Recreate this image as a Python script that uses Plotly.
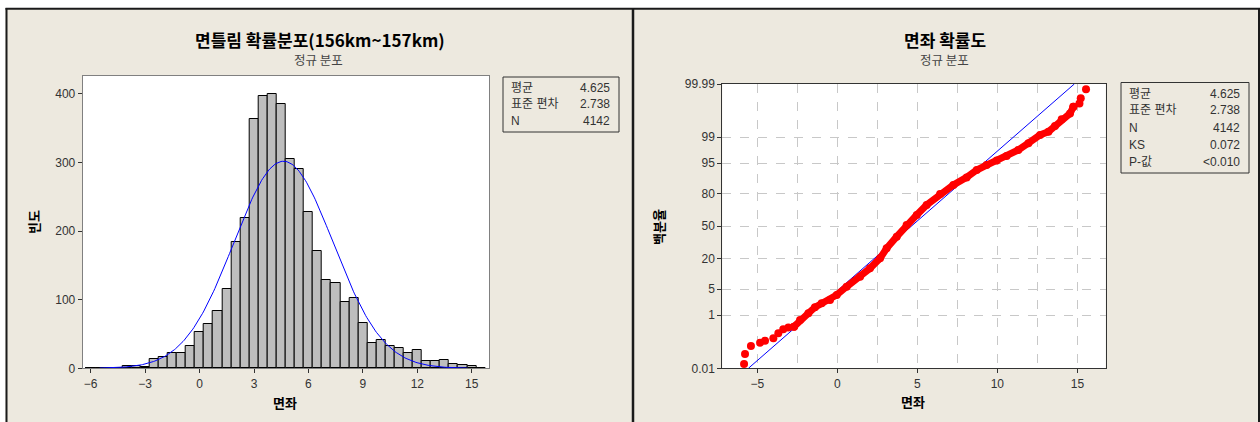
import plotly.graph_objects as go
from statistics import NormalDist

# ---------------- data ----------------
bin_centers = [-6.0, -5.5, -5.0, -4.5, -4.0, -3.5, -3.0, -2.5, -2.0, -1.5, -1.0, -0.5,
               0.0, 0.5, 1.0, 1.5, 2.0, 2.5, 3.0, 3.5, 4.0, 4.5, 5.0, 5.5,
               6.0, 6.5, 7.0, 7.5, 8.0, 8.5, 9.0, 9.5, 10.0, 10.5, 11.0, 11.5,
               12.0, 12.5, 13.0, 13.5, 14.0, 14.5, 15.0, 15.5]
bin_counts = [1, 1, 1, 1, 4, 4, 2, 14, 16, 22, 23, 32,
              53, 64, 83, 116, 184, 219, 363, 397, 400, 385, 305, 291,
              228, 171, 129, 125, 96, 102, 66, 37, 41, 32, 29, 23,
              27, 10, 10, 12, 6, 5, 3, 1]
bin_width = 0.5

mean_val = 4.625
sd_val = 2.738
n_val = 4142
ks_val = 0.072

# probability plot points (deviation, cumulative percent)
pp_x = [-5.83, -5.77, -5.40, -4.83, -4.52, -4.00, -3.69, -3.38, -3.06, -2.71,
        -2.33, -1.81, -1.40, -0.98, -0.46, -0.04, 0.58, 1.42, 2.04, 2.67,
        3.08, 3.71, 4.33, 4.96, 5.58, 6.42, 7.25, 8.08, 8.71, 9.33,
        9.96, 10.58, 11.31, 11.94, 12.67, 13.19, 13.60, 14.02, 14.54, 14.75,
        15.13, 15.21, 15.54]
pp_pct = [0.0155, 0.041, 0.086, 0.115, 0.137, 0.167, 0.253, 0.348, 0.397, 0.428,
          0.705, 1.13, 1.69, 2.18, 2.67, 3.59, 5.67, 9.32, 13.5, 20.0,
          28.1, 39.2, 51.2, 61.5, 71.0, 80.0, 85.9, 89.9, 92.9, 94.5,
          95.7, 96.7, 97.7, 98.5, 99.15, 99.33, 99.56, 99.74, 99.84, 99.911,
          99.934, 99.959, 99.983]

hist_xticks = [-6, -3, 0, 3, 6, 9, 12, 15]
hist_yticks = [0, 100, 200, 300, 400]
pp_xticks = [-5, 0, 5, 10, 15]
pp_xticklabels = ["\u22125", "0", "5", "10", "15"]
pp_yticks = [0.01, 1, 5, 20, 50, 80, 95, 99, 99.99]
pp_yticklabels = ["0.01", "1", "5", "20", "50", "80", "95", "99", "99.99"]

# ---------------- helpers ----------------
W, H = 1260, 422
BG = "#EDE9DF"
FONT = "Liberation Sans, Arial, Noto Sans CJK KR"
KFONT = "Noto Sans CJK KR, Liberation Sans"
TXT = "#333333"


def px(x):
    return x / W


def py(y):
    return 1 - y / H


nd = NormalDist()

fig = go.Figure()

# histogram
fig.add_trace(go.Bar(x=bin_centers, y=bin_counts, width=bin_width,
                     marker=dict(color="#BEBEBE", line=dict(color="#000000", width=1)),
                     xaxis="x", yaxis="y", showlegend=False, hoverinfo="skip"))

# fitted normal curve
curve_x = [mean_val - 3.7 * sd_val + i * (7.4 * sd_val) / 300 for i in range(301)]
curve_y = [n_val * bin_width * NormalDist(mean_val, sd_val).pdf(v) for v in curve_x]
fig.add_trace(go.Scatter(x=curve_x, y=curve_y, mode="lines",
                         line=dict(color="#0000FF", width=1),
                         xaxis="x", yaxis="y", showlegend=False, hoverinfo="skip"))

# probability plot fit line
zlim = nd.inv_cdf(0.9999)
fig.add_trace(go.Scatter(x=[mean_val - zlim * sd_val, mean_val + zlim * sd_val],
                         y=[-zlim, zlim], mode="lines",
                         line=dict(color="#0000FF", width=1),
                         xaxis="x2", yaxis="y2", showlegend=False, hoverinfo="skip"))

pp_z = [nd.inv_cdf(p / 100.0) for p in pp_pct]
core = slice(9, 40)
fig.add_trace(go.Scatter(x=pp_x[core], y=pp_z[core], mode="lines+markers",
                         line=dict(color="#FF0000", width=7),
                         marker=dict(color="#FF0000", size=8),
                         xaxis="x2", yaxis="y2", showlegend=False, hoverinfo="skip"))
tail_idx = list(range(0, 10)) + list(range(39, len(pp_x)))
fig.add_trace(go.Scatter(x=[pp_x[i] for i in tail_idx], y=[pp_z[i] for i in tail_idx],
                         mode="markers",
                         marker=dict(color="#FF0000", size=8),
                         xaxis="x2", yaxis="y2", showlegend=False, hoverinfo="skip"))

axis_common = dict(ticks="outside", ticklen=4, tickcolor="#333333", showline=True, mirror=True,
                   zeroline=False, automargin=False,
                   tickfont=dict(family=FONT, size=12, color=TXT))

fig.update_layout(
    width=W, height=H, margin=dict(l=0, r=0, t=0, b=0, pad=0, autoexpand=False),
    paper_bgcolor=BG, plot_bgcolor="#FFFFFF", bargap=0,
    xaxis=dict(domain=[px(82.7), px(489)], range=[-6.44, 15.95], tickvals=hist_xticks,
               showgrid=False, linecolor="#808080", anchor="y", **axis_common),
    yaxis=dict(domain=[py(368.3), py(76)], range=[0, 426], tickvals=hist_yticks,
               showgrid=False, linecolor="#808080", anchor="x", **axis_common),
    xaxis2=dict(domain=[px(722.3), px(1105.7)], range=[-7.19, 16.77], tickvals=pp_xticks,
                ticktext=pp_xticklabels,
                showgrid=True, gridcolor="#C8C8C8", griddash="dash", gridwidth=1,
                minor=dict(dtick=2.5, tick0=0, showgrid=True, gridcolor="#C8C8C8",
                           griddash="dash", ticklen=0),
                linecolor="#333333", anchor="y2", **axis_common),
    yaxis2=dict(domain=[py(368.3), py(84)], range=[-zlim, zlim],
                tickvals=[nd.inv_cdf(p / 100.0) for p in pp_yticks], ticktext=pp_yticklabels,
                showgrid=True, gridcolor="#C8C8C8", griddash="dash", gridwidth=1,
                linecolor="#333333", anchor="x2", **axis_common),
)

shapes = []
# white outer strips
shapes.append(dict(type="rect", xref="paper", yref="paper", x0=0, x1=1, y0=py(8), y1=1,
                   fillcolor="#FFFFFF", line=dict(width=0), layer="above"))
shapes.append(dict(type="rect", xref="paper", yref="paper", x0=0, x1=px(5.5), y0=0, y1=1,
                   fillcolor="#FFFFFF", line=dict(width=0), layer="above"))
# frame lines
for (x0, y0, x1, y1, w) in [(5.5, 8.8, 1260, 8.8, 2), (6.5, 8, 6.5, 422, 2),
                            (633, 8, 633, 422, 2.5), (1259, 8, 1259, 422, 2)]:
    shapes.append(dict(type="line", xref="paper", yref="paper", x0=px(x0), x1=px(x1),
                       y0=py(y0), y1=py(y1), line=dict(color="#1A1A1A", width=w), layer="above"))
# stats boxes
shapes.append(dict(type="rect", xref="paper", yref="paper", x0=px(503), x1=px(619),
                   y0=py(132), y1=py(77), line=dict(color="#333333", width=1), layer="above"))
shapes.append(dict(type="rect", xref="paper", yref="paper", x0=px(1121), x1=px(1249),
                   y0=py(173), y1=py(82.5), line=dict(color="#333333", width=1), layer="above"))
fig.update_layout(shapes=shapes)

anns = []


def ann(text, x, y, size=12, bold=False, color=TXT, xanchor="center", angle=0, family=KFONT):
    if bold:
        text = "<b>" + text + "</b>"
    anns.append(dict(text=text, x=px(x), y=py(y), xref="paper", yref="paper",
                     xanchor=xanchor, yanchor="middle", showarrow=False, textangle=angle,
                     font=dict(family=family, size=size, color=color)))


ann("면틀림 확률분포(156km~157km)", 320, 40, size=17, bold=True, color="#000000")
ann("정규 분포", 318, 59, size=12.5, color="#444444")
ann("면좌 확률도", 945, 40, size=17, bold=True, color="#000000")
ann("정규 분포", 944, 59, size=12.5, color="#444444")
ann("면좌", 285, 402, size=13, bold=True, color="#000000")
ann("면좌", 913, 401, size=13, bold=True, color="#000000")
ann("빈도", 33, 222, size=13, bold=True, color="#000000", angle=-90)
ann("백분율", 659, 227, size=13, bold=True, color="#000000", angle=-90)

stats_left = [("평균", f"{mean_val:.3f}", 88), ("표준 편차", f"{sd_val:.3f}", 104),
              ("N", str(n_val), 121)]
for lab, val, yy in stats_left:
    ann(lab, 509, yy, size=12, xanchor="left", family=FONT)
    ann(val, 612, yy, size=12, xanchor="right", family=FONT)

stats_right = [("평균", f"{mean_val:.3f}", 94), ("표준 편차", f"{sd_val:.3f}", 110),
               ("N", str(n_val), 128), ("KS", f"{ks_val:.3f}", 145), ("P-값", "<0.010", 162)]
for lab, val, yy in stats_right:
    ann(lab, 1127, yy, size=12, xanchor="left", family=FONT)
    ann(val, 1242, yy, size=12, xanchor="right", family=FONT)

fig.update_layout(annotations=anns)

fig.write_html("out.html", config={"displayModeBar": False},
               post_script="document.body.style.margin='0';document.body.style.overflow='hidden';")
